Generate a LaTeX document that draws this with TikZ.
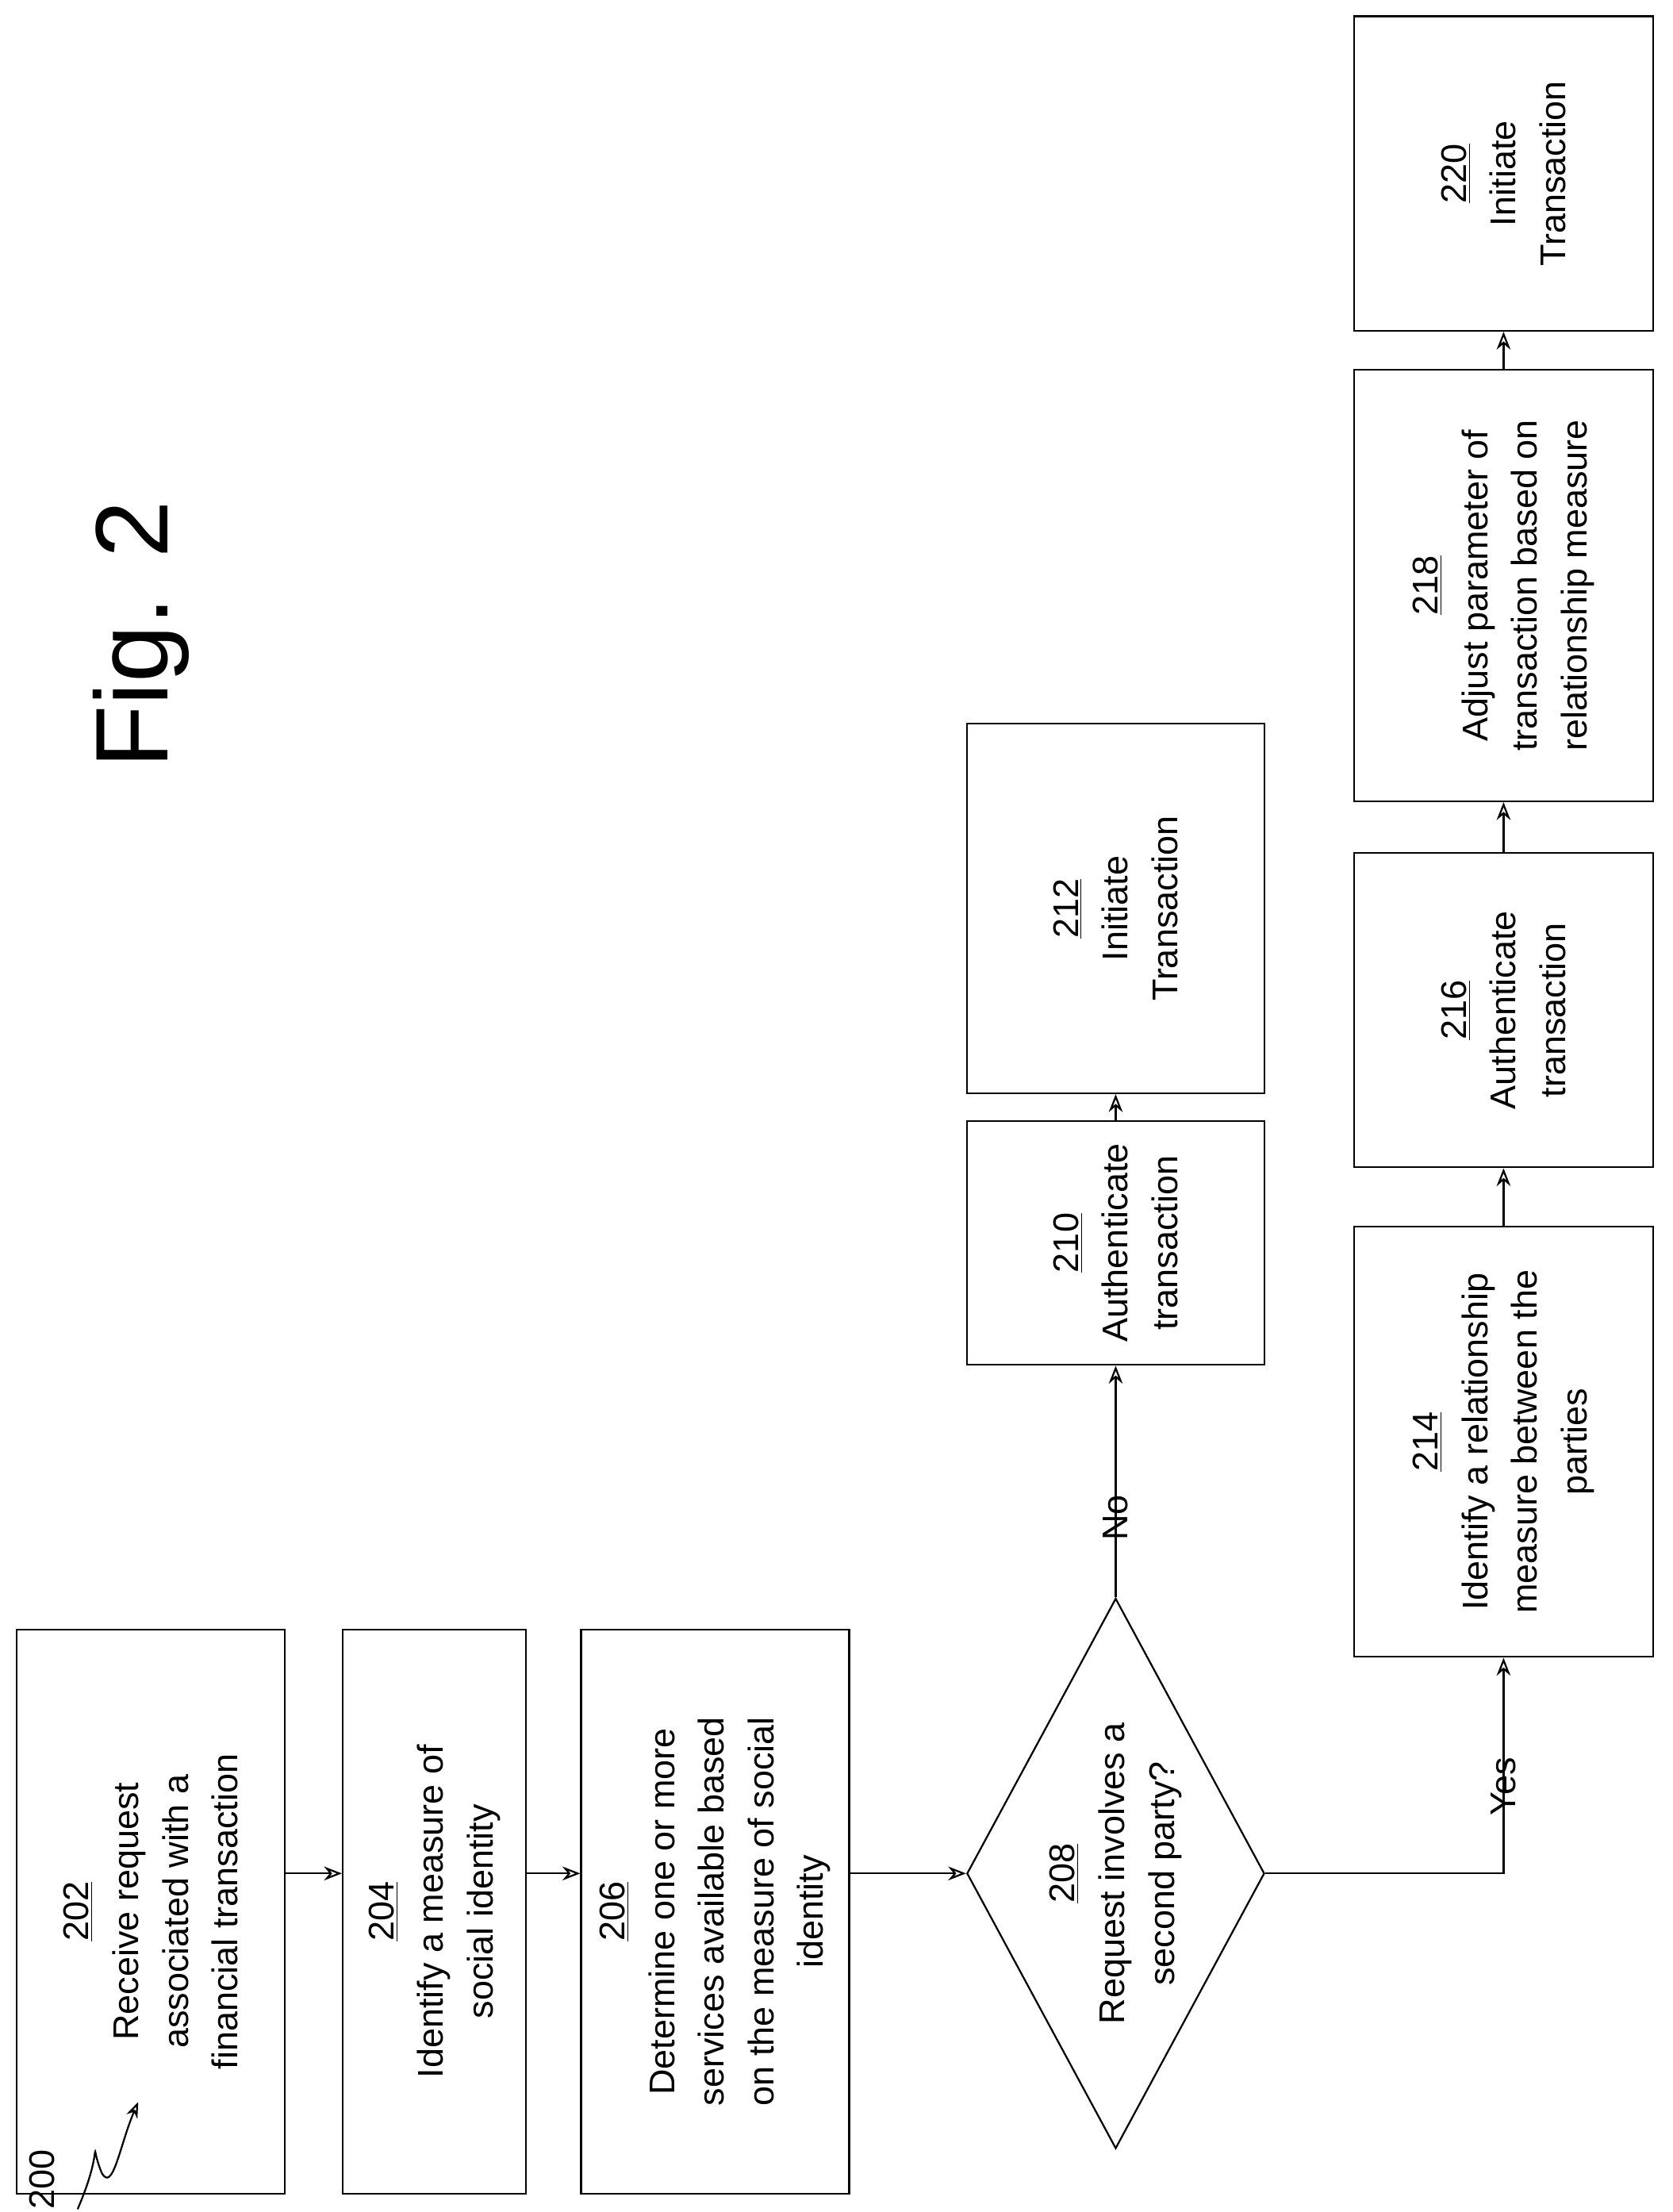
\documentclass[tikz,border=0pt]{standalone}
\usepackage{fontspec}
\setmainfont{Liberation Sans}
\usetikzlibrary{shapes.geometric,arrows.meta}
\begin{document}
\begin{tikzpicture}[x=0.025cm,y=-0.025cm,
  box/.style={draw,line width=0.9pt,rotate=90,align=center,inner sep=0pt,font=\fontsize{18}{25}\selectfont},
  arr/.style={line width=0.9pt,-{Stealth[length=9pt,width=7pt,open]}},
  lbl/.style={rotate=90,font=\fontsize{18}{22}\selectfont}]
\useasboundingbox (0,0) rectangle (1186,1568);
\node[box,minimum width=400*0.025cm,minimum height=190*0.025cm] (n202) at (107,1355) {\underline{202}\\Receive request\\associated with a\\financial transaction};
\node[box,minimum width=400*0.025cm,minimum height=130*0.025cm] (n204) at (308,1355) {\underline{204}\\Identify a measure of\\social identity};
\node[box,minimum width=400*0.025cm,minimum height=190*0.025cm] (n206) at (507,1355) {\underline{206}\\Determine one or more\\services available based\\on the measure of social\\identity};
\node[draw,diamond,line width=0.9pt,rotate=90,inner sep=0pt,minimum width=390*0.025cm,minimum height=211*0.025cm] (d) at (791,1328) {};
\node[lbl,align=center,font=\fontsize{18}{25}\selectfont] (t208) at (d) {\underline{208}\\Request involves a\\second party?};
\node[box,minimum width=173*0.025cm,minimum height=211*0.025cm] (n210) at (791,881) {\underline{210}\\Authenticate\\transaction};
\node[box,minimum width=262*0.025cm,minimum height=211*0.025cm] (n212) at (791,644) {\underline{212}\\Initiate\\Transaction};
\node[box,minimum width=305*0.025cm,minimum height=212*0.025cm] (n214) at (1066,1022) {\underline{214}\\Identify a relationship\\measure between the\\parties};
\node[box,minimum width=223*0.025cm,minimum height=212*0.025cm] (n216) at (1066,716) {\underline{216}\\Authenticate\\transaction};
\node[box,minimum width=306*0.025cm,minimum height=212*0.025cm] (n218) at (1066,415) {\underline{218}\\Adjust parameter of\\transaction based on\\relationship measure};
\node[box,minimum width=223*0.025cm,minimum height=212*0.025cm] (n220) at (1066,123) {\underline{220}\\Initiate\\Transaction};
\node[rotate=90,font=\fontsize{52}{60}\selectfont] (fig) at (100,450) {Fig. 2};
\node[lbl] (l200) at (30,1545) {200};
\coordinate (s0) at (55,1566);
\coordinate (s1) at (98,1490);
\draw[line width=0.9pt,-{Stealth[length=8pt,width=6pt,open]}] (s0) .. controls (75,1520) and (62,1515) .. (72,1540) .. controls (80,1555) and (85,1520) .. (s1);
\draw[arr] (n202.south |- d) -- (n204.north |- d);
\draw[arr] (n204.south |- d) -- (n206.north |- d);
\draw[arr] (n206.south |- d) -- (d.north);
\draw[arr] (d.east) -- node[lbl,left=3pt] {No} (n210);
\draw[arr] (n210) -- (n212);
\draw[arr] (d.south) -| node[lbl,pos=0.8,left=3pt] {Yes} (n214);
\draw[arr] (n214) -- (n216);
\draw[arr] (n216) -- (n218);
\draw[arr] (n218) -- (n220);
\end{tikzpicture}
\end{document}
